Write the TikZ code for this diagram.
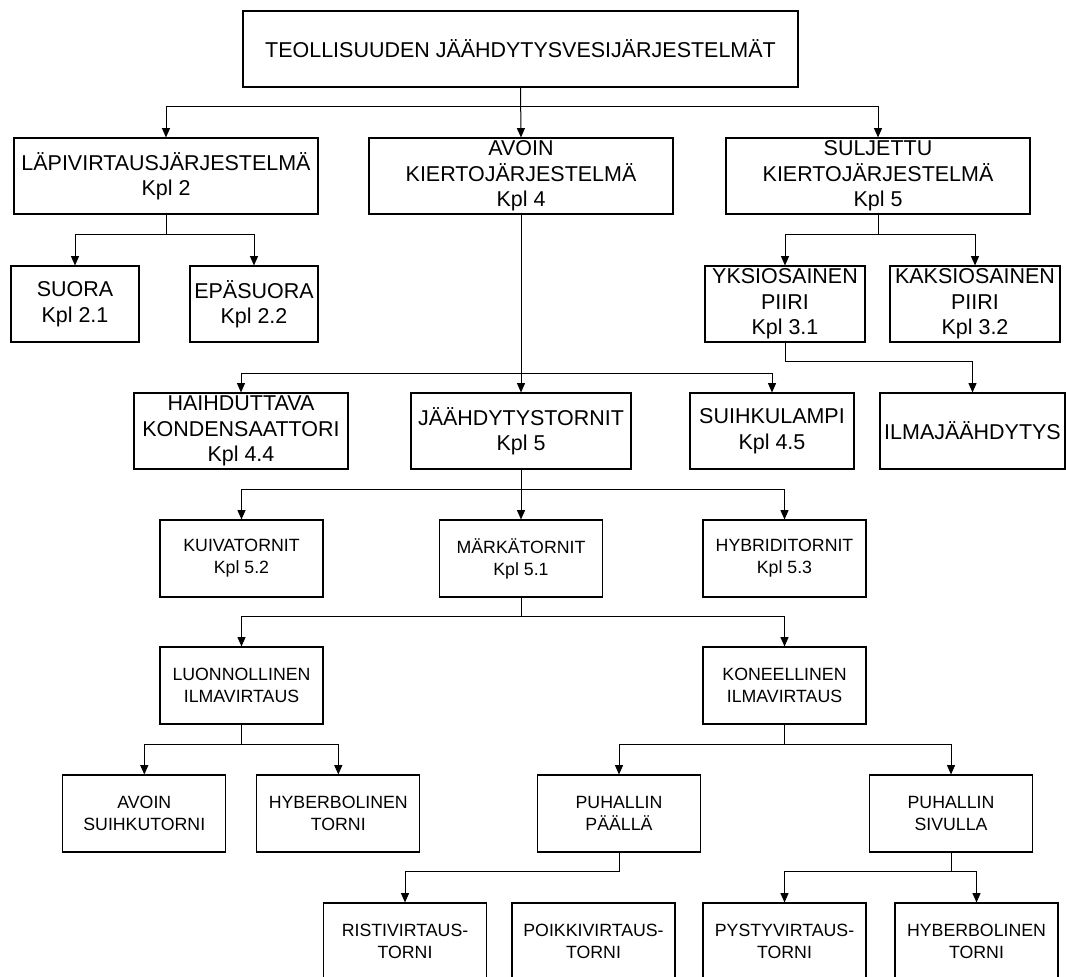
\documentclass[tikz,border=0pt]{standalone}
\usepackage{fontspec}
\setmainfont{Liberation Sans}
\usetikzlibrary{arrows.meta}
\tikzset{
  box/.style 2 args={draw, line width=0.85pt, rectangle, inner sep=0pt, align=center,
    minimum width=#1*0.75pt, minimum height=#2*0.75pt},
  big/.style={font=\fontsize{16.1}{19.1}\selectfont},
  small/.style={font=\fontsize{13.3}{16.4}\selectfont},
  conn/.style={line width=0.75pt},
  arr/.style={conn, -{Triangle[length=7pt, width=6pt]}},
}
\begin{document}
\begin{tikzpicture}[x=0.75pt, y=-0.75pt]
\useasboundingbox (0,0) rectangle (1066,976);
\clip (0,0) rectangle (1066,976);
% level 0
\node[box={555}{76}, big] (top) at (520.5,49) {TEOLLISUUDEN JÄÄHDYTYSVESIJÄRJESTELMÄT};
% level 1
\node[box={304}{76}, big] (lapi) at (166,176) {LÄPIVIRTAUSJÄRJESTELMÄ\\Kpl 2};
\node[box={304}{76}, big] (avoin) at (521,176) {AVOIN\\KIERTOJÄRJESTELMÄ\\Kpl 4};
\node[box={304}{76}, big] (sulj) at (878,176) {SULJETTU\\KIERTOJÄRJESTELMÄ\\Kpl 5};
% level 2
\node[box={128}{76}, big] (suora) at (75,304) {SUORA\\Kpl 2.1};
\node[box={128}{76}, big] (epas) at (254,304) {EPÄSUORA\\Kpl 2.2};
\node[box={160}{76}, big] (yksi) at (785,304) {YKSIOSAINEN\\PIIRI\\Kpl 3.1};
\node[box={170}{76}, big] (kaksi) at (975,304) {KAKSIOSAINEN\\PIIRI\\Kpl 3.2};
% level 3
\node[box={214}{76}, big] (haih) at (241,431) {HAIHDUTTAVA\\KONDENSAATTORI\\Kpl 4.4};
\node[box={220}{76}, big] (jaah) at (521,431) {JÄÄHDYTYSTORNIT\\Kpl 5};
\node[box={164}{76}, big] (suih) at (772,431) {SUIHKULAMPI\\Kpl 4.5};
\node[box={185}{76}, big] (ilma) at (972.5,431) {ILMAJÄÄHDYTYS};
% level 4
\node[box={163}{77}, small] (kuiva) at (241.5,558.5) {KUIVATORNIT\\Kpl 5.2};
\node[box={163}{77}, small] (marka) at (521,558.5) {MÄRKÄTORNIT\\Kpl 5.1};
\node[box={163}{77}, small] (hybr) at (784.5,558.5) {HYBRIDITORNIT\\Kpl 5.3};
% level 5
\node[box={163}{77}, small] (luonn) at (241.5,685.5) {LUONNOLLINEN\\ILMAVIRTAUS};
\node[box={163}{77}, small] (kone) at (784.5,685.5) {KONEELLINEN\\ILMAVIRTAUS};
% level 6
\node[box={163}{77}, small] (avsu) at (144.3,813.5) {AVOIN\\SUIHKUTORNI};
\node[box={163}{77}, small] (hypa) at (338.3,813.5) {HYBERBOLINEN\\TORNI};
\node[box={163}{77}, small] (paalla) at (619,813.5) {PUHALLIN\\PÄÄLLÄ};
\node[box={163}{77}, small] (sivu) at (951,813.5) {PUHALLIN\\SIVULLA};
% level 7
\node[box={163}{77}, small] (risti) at (405,941.5) {RISTIVIRTAUS-\\TORNI};
\node[box={163}{77}, small] (poikki) at (593.5,941.5) {POIKKIVIRTAUS-\\TORNI};
\node[box={163}{77}, small] (pysty) at (784.5,941.5) {PYSTYVIRTAUS-\\TORNI};
\node[box={163}{77}, small] (hypb) at (976.5,941.5) {HYBERBOLINEN\\TORNI};
% connectors
\draw[arr] (top.south) |- (lapi.north |- 0,106) -- (lapi.north);
\draw[arr] (top.south) -- (avoin.north);
\draw[arr] (top.south) |- (sulj.north |- 0,106) -- (sulj.north);
\draw[arr] (lapi.south) |- (suora.north |- 0,234) -- (suora.north);
\draw[arr] (lapi.south) |- (epas.north |- 0,234) -- (epas.north);
\draw[arr] (sulj.south) |- (yksi.north |- 0,234) -- (yksi.north);
\draw[arr] (sulj.south) |- (kaksi.north |- 0,234) -- (kaksi.north);
\draw[arr] (avoin.south) |- (haih.north |- 0,373) -- (haih.north);
\draw[arr] (avoin.south) -- (jaah.north);
\draw[arr] (avoin.south) |- (suih.north |- 0,373) -- (suih.north);
\draw[arr] (yksi.south) |- (ilma.north |- 0,361) -- (ilma.north);
\draw[arr] (jaah.south) |- (kuiva.north |- 0,489) -- (kuiva.north);
\draw[arr] (jaah.south) -- (marka.north);
\draw[arr] (jaah.south) |- (hybr.north |- 0,489) -- (hybr.north);
\draw[arr] (marka.south) |- (luonn.north |- 0,616) -- (luonn.north);
\draw[arr] (marka.south) |- (kone.north |- 0,616) -- (kone.north);
\draw[arr] (luonn.south) |- (avsu.north |- 0,744) -- (avsu.north);
\draw[arr] (luonn.south) |- (hypa.north |- 0,744) -- (hypa.north);
\draw[arr] (kone.south) |- (paalla.north |- 0,744) -- (paalla.north);
\draw[arr] (kone.south) |- (sivu.north |- 0,744) -- (sivu.north);
\draw[arr] (paalla.south) |- (risti.north |- 0,871) -- (risti.north);
\draw[arr] (sivu.south) |- (pysty.north |- 0,871) -- (pysty.north);
\draw[arr] (sivu.south) |- (hypb.north |- 0,871) -- (hypb.north);
\end{tikzpicture}
\end{document}
